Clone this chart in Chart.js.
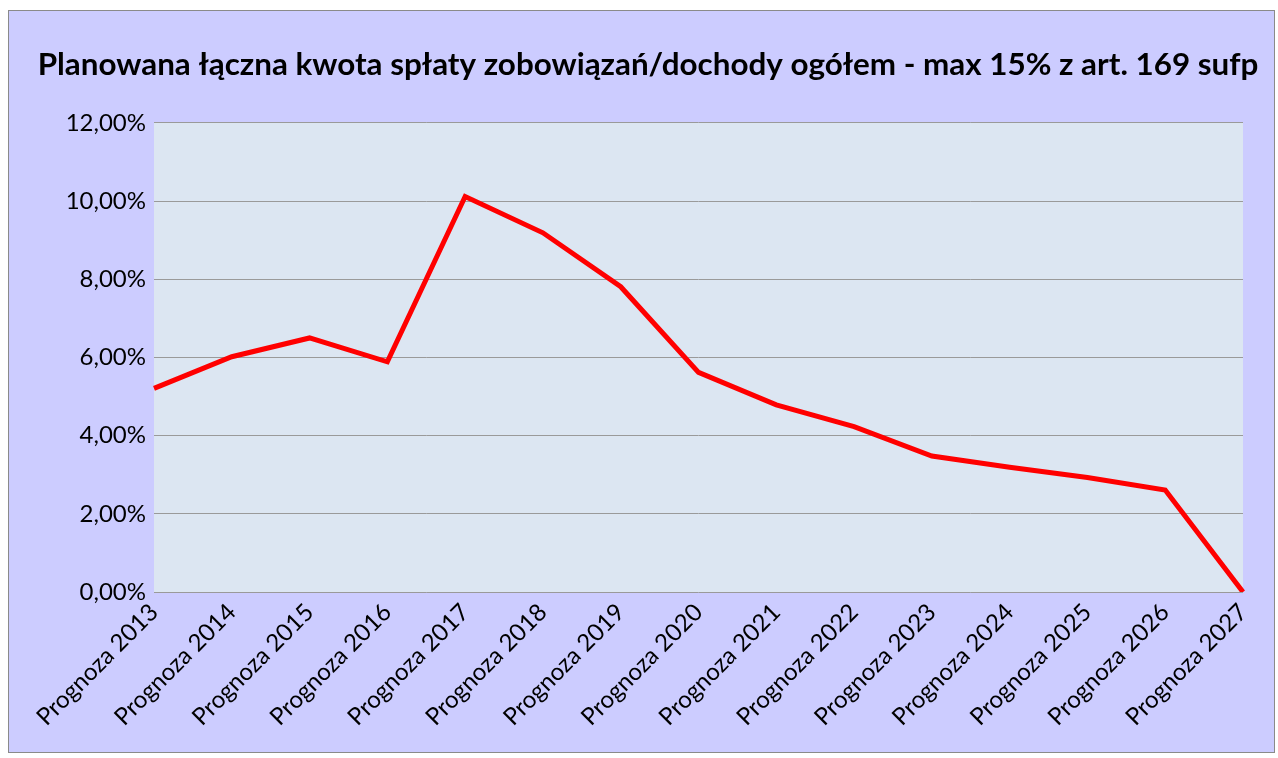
<!DOCTYPE html>
<html>
<head>
<meta charset="utf-8">
<script src="https://cdn.jsdelivr.net/npm/chart.js@4.4.1/dist/chart.umd.min.js"></script>
<style>
  html, body { margin: 0; padding: 0; background: #ffffff; }
  #box { position: absolute; left: 8px; top: 10px; width: 1265px; height: 741px; border: 1px solid #8a8a8a; background: #CCCCFF; }
  canvas { display: block; }
</style>
</head>
<body>
<div id="box"><canvas id="c" width="1265" height="741"></canvas></div>
<script>
const categories = ['Prognoza 2013','Prognoza 2014','Prognoza 2015','Prognoza 2016','Prognoza 2017','Prognoza 2018','Prognoza 2019','Prognoza 2020','Prognoza 2021','Prognoza 2022','Prognoza 2023','Prognoza 2024','Prognoza 2025','Prognoza 2026','Prognoza 2027'];
const ratioValues = [5.21, 6.02, 6.50, 5.89, 10.12, 9.19, 7.81, 5.62, 4.79, 4.23, 3.48, 3.19, 2.93, 2.61, 0.00];
const yTicks = [0, 2, 4, 6, 8, 10, 12];
const titleText = 'Planowana łączna kwota spłaty zobowiązań/dochody ogółem - max 15% z art. 169 sufp';

const plotBg = {
  id: 'plotBg',
  beforeDraw(chart) {
    const a = chart.chartArea, ctx = chart.ctx;
    ctx.save();
    ctx.fillStyle = '#DCE6F2';
    ctx.fillRect(a.left, a.top, a.right - a.left, a.bottom - a.top);
    ctx.restore();
  }
};

new Chart(document.getElementById('c'), {
  type: 'line',
  data: {
    labels: categories,
    datasets: [{
      data: ratioValues,
      borderColor: '#FF0000',
      borderWidth: 5,
      pointRadius: 0,
      tension: 0,
      borderJoinStyle: 'miter',
      fill: false
    }]
  },
  options: {
    responsive: false,
    animation: false,
    layout: { padding: { left: 13, right: 0, top: 0, bottom: 0 } },
    plugins: {
      legend: { display: false },
      tooltip: { enabled: false },
      title: {
        display: true,
        text: titleText,
        color: '#000000',
        font: { family: 'Lato', size: 31.4, weight: 'bold', lineHeight: 1.2 },
        padding: { top: 35, bottom: 39.3 }
      }
    },
    scales: {
      x: {
        offset: false,
        grid: { display: false, drawTicks: false },
        border: { display: false },
        ticks: {
          color: '#000000',
          font: { family: 'Lato', size: 24 },
          minRotation: 45, maxRotation: 45,
          padding: 6,
          autoSkip: false
        },
        afterFit(s) { s.height = 160; s.paddingRight = 31; }
      },
      y: {
        min: 0, max: 12,
        afterBuildTicks(s) { s.ticks = yTicks.map(v => ({ value: v })); },
        grid: { color: '#9a9a9a', lineWidth: 1, drawTicks: false },
        border: { display: false },
        ticks: {
          color: '#000000',
          font: { family: 'Lato', size: 24 },
          padding: 8,
          callback: v => v.toFixed(2).replace('.', ',') + '%'
        },
        afterFit(s) { s.width = 132; }
      }
    }
  },
  plugins: [plotBg]
});
</script>
</body>
</html>
